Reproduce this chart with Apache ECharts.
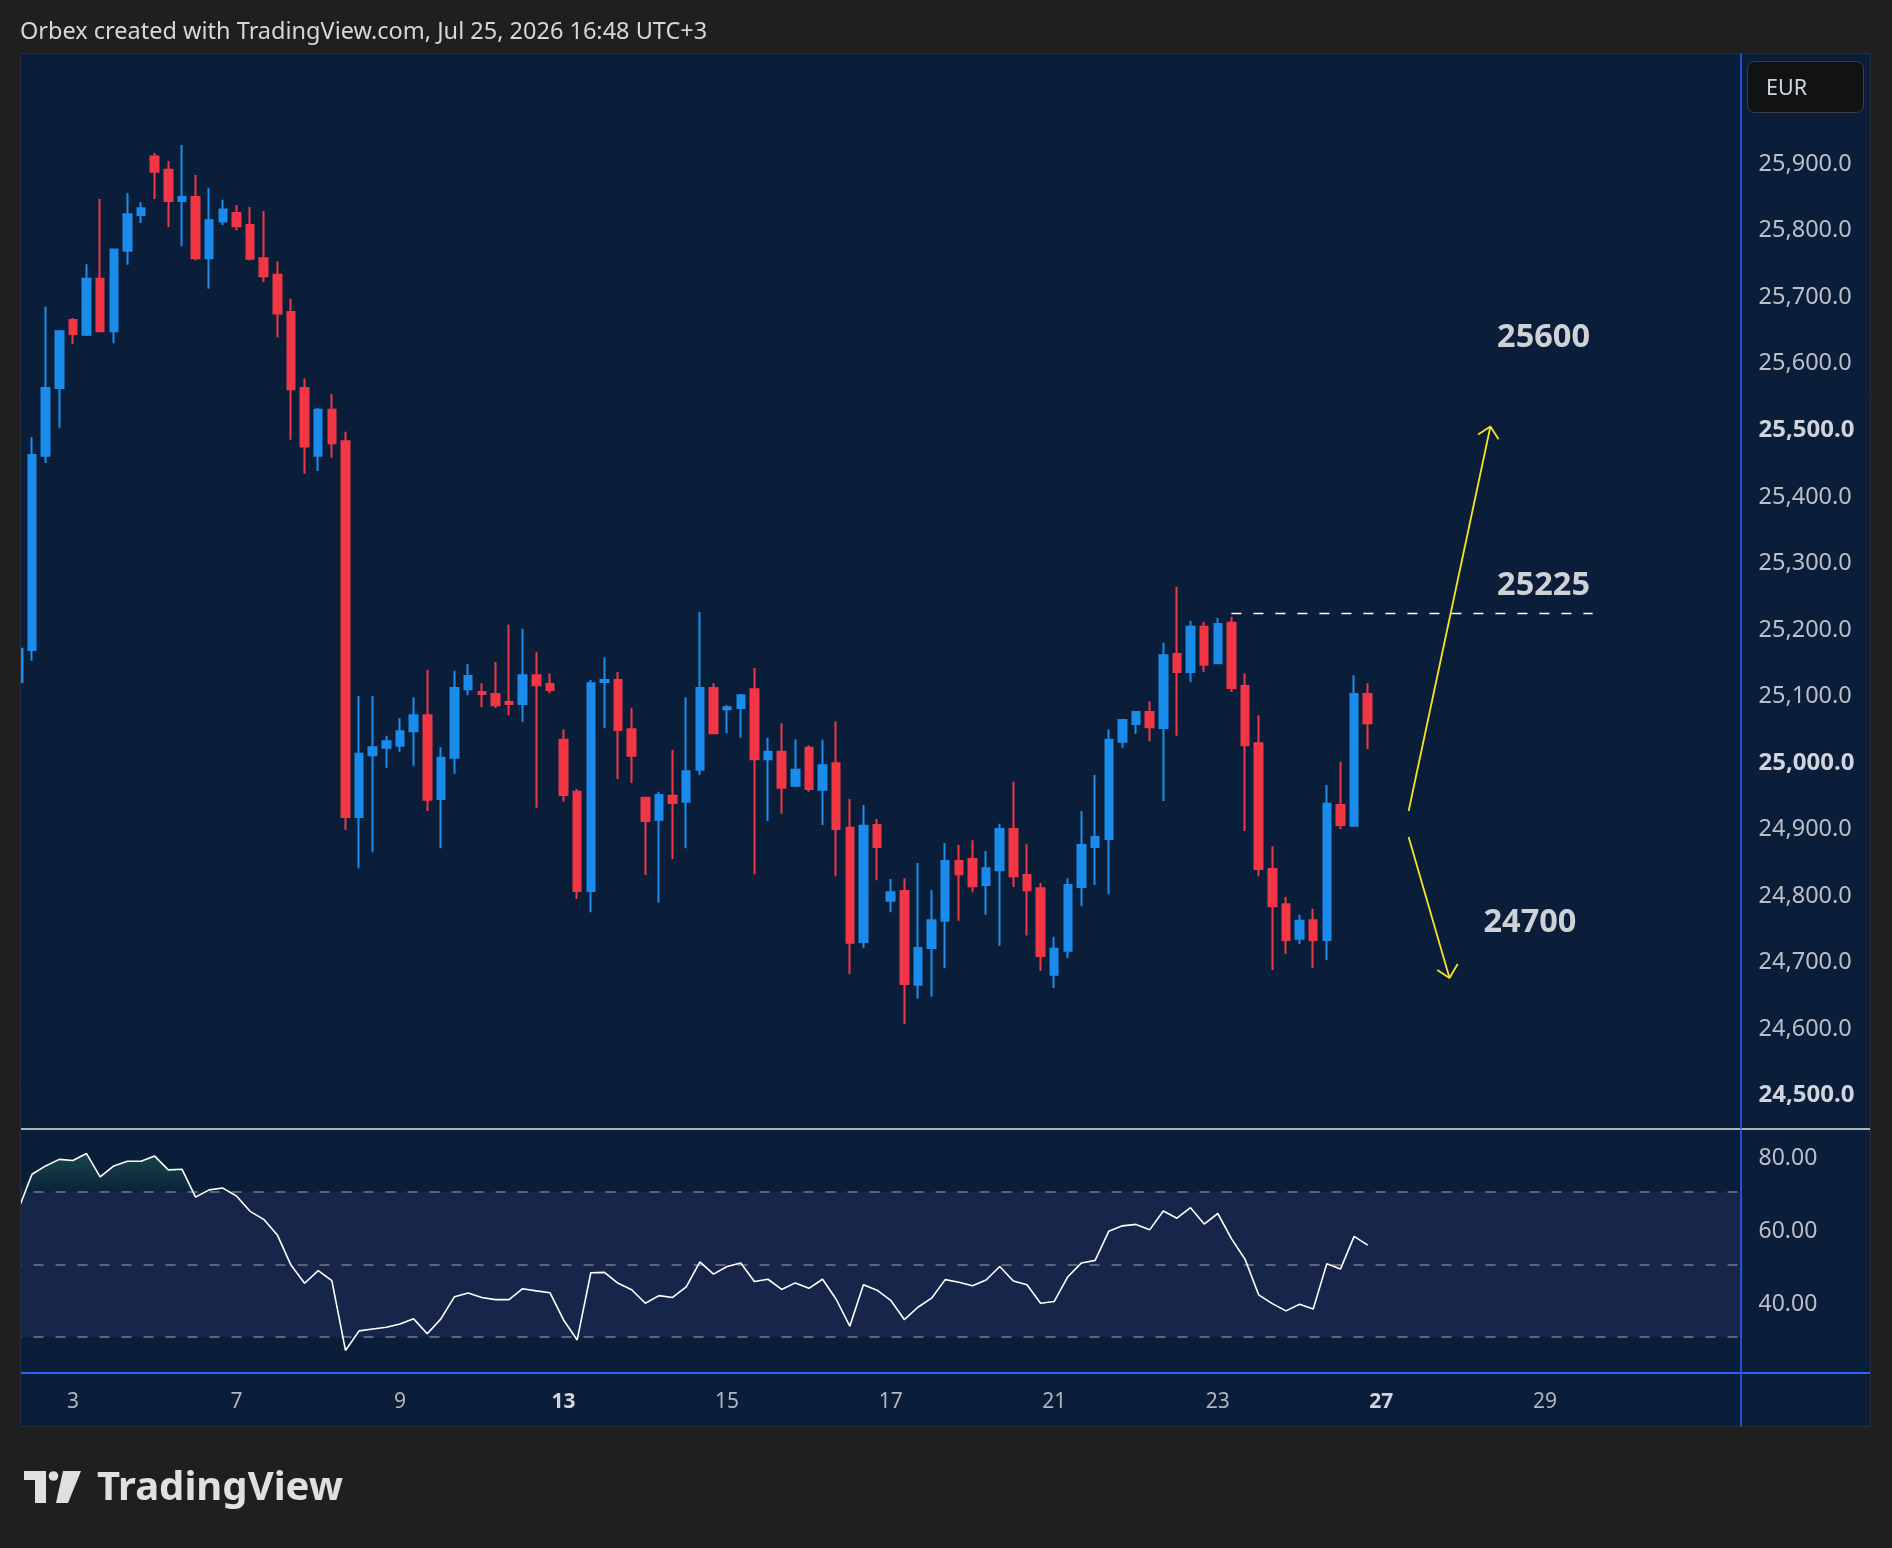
<!DOCTYPE html>
<html>
<head>
<meta charset="utf-8">
<script src="https://cdn.jsdelivr.net/npm/echarts@6/dist/echarts.min.js"></script>
<style>
  html, body { margin: 0; padding: 0; background: #1f1f1f; }
  #main { width: 1892px; height: 1548px; }
</style>
</head>
<body>
<div id="main"></div>
<script>
// 4H bars, Jul 2 (last bars) .. Jul 24 2026, then empty space to the right
const tradingDays = [2, 3, 6, 7, 8, 9, 10, 13, 14, 15, 16, 17, 20, 21, 22, 23, 24, 27, 28, 29, 30, 31];
const labeledDays = [3, 7, 9, 13, 15, 17, 21, 23, 27, 29];
const boldDays = [13, 27];

const opens = [
  25118, 25166, 25458, 25560, 25662, 25640, 25724, 25645, 25766, 25820,
  25908, 25888, 25841, 25847, 25755, 25810, 25823, 25805, 25755, 25730,
  25674, 25560, 25458, 25527, 25480, 24915, 25008, 25019, 25022, 25044,
  25068, 24942, 25004, 25107, 25103, 25100, 25088, 25085, 25128, 25115,
  25031, 24953, 24804, 25118, 25121, 25047, 24944, 24911, 24947, 24938,
  24986, 25109, 25077, 25079, 25107, 25002, 25013, 24962, 25019, 24956,
  24996, 24899, 24727, 24903, 24789, 24804, 24663, 24718, 24759, 24849,
  24852, 24813, 24835, 24897, 24828, 24808, 24678, 24714, 24810, 24870,
  24882, 25028, 25055, 25073, 25049, 25160, 25133, 25201, 25146, 25207,
  25112, 25026, 24837, 24784, 24732, 24760, 24730, 24933, 24902, 25100
];
const closes = [
  25168, 25459, 25560, 25645, 25641, 25724, 25645, 25768, 25821, 25830,
  25885, 25841, 25847, 25755, 25812, 25828, 25803, 25754, 25728, 25672,
  25558, 25472, 25527, 25477, 24915, 25010, 25020, 25029, 25044, 25068,
  24941, 25004, 25109, 25127, 25100, 25083, 25085, 25128, 25113, 25106,
  24948, 24804, 25116, 25121, 25046, 25007, 24909, 24948, 24936, 24984,
  25109, 25041, 25080, 25098, 25002, 25013, 24959, 24986, 24957, 24993,
  24897, 24726, 24902, 24870, 24802, 24664, 24718, 24760, 24849, 24829,
  24811, 24838, 24897, 24826, 24805, 24706, 24717, 24813, 24873, 24885,
  25031, 25061, 25073, 25050, 25158, 25133, 25201, 25144, 25205, 25109,
  25023, 24837, 24781, 24730, 24759, 24730, 24935, 24903, 25100, 25056
];
const lows = [
  25110, 25150, 25447, 25500, 25626, 25638, 25644, 25627, 25745, 25808,
  25844, 25802, 25773, 25752, 25709, 25805, 25797, 25752, 25719, 25636,
  25482, 25431, 25435, 25455, 24896, 24838, 24862, 24989, 25013, 24992,
  24924, 24868, 24980, 25098, 25080, 25079, 25068, 25058, 24929, 25101,
  24938, 24792, 24772, 25049, 24972, 24966, 24828, 24786, 24852, 24868,
  24978, 25041, 25041, 25034, 24829, 24909, 24920, 24960, 24953, 24903,
  24826, 24679, 24718, 24820, 24772, 24604, 24642, 24645, 24688, 24759,
  24802, 24768, 24721, 24810, 24737, 24684, 24658, 24703, 24781, 24813,
  24799, 25019, 25040, 25029, 24939, 25037, 25118, 25133, 25145, 25103,
  24894, 24826, 24685, 24709, 24724, 24688, 24700, 24897, 24901, 25017
];
const highs = [
  25172, 25486, 25682, 25647, 25665, 25746, 25844, 25768, 25853, 25839,
  25913, 25901, 25925, 25880, 25861, 25843, 25835, 25832, 25826, 25750,
  25694, 25574, 25530, 25551, 25494, 25097, 25097, 25037, 25064, 25095,
  25136, 25020, 25135, 25145, 25116, 25148, 25204, 25198, 25163, 25131,
  25047, 24957, 25121, 25155, 25133, 25079, 24945, 24953, 25016, 25095,
  25223, 25116, 25083, 25100, 25139, 25034, 25056, 25032, 25023, 25031,
  25059, 24942, 24933, 24912, 24822, 24823, 24846, 24805, 24876, 24873,
  24880, 24864, 24905, 24968, 24874, 24816, 24735, 24823, 24924, 24978,
  25047, 25062, 25074, 25089, 25177, 25261, 25210, 25208, 25214, 25216,
  25131, 25068, 24871, 24795, 24768, 24777, 24963, 24998, 25128, 25116
];
const rsiValues = [
  65.1, 74.8, 77.1, 78.9, 78.6, 80.5, 74.1, 77.1, 78.4, 78.4,
  79.8, 76.0, 76.2, 68.5, 70.5, 71.0, 68.8, 64.6, 62.4, 58.1,
  49.8, 44.8, 48.3, 45.5, 26.3, 31.7, 32.2, 32.7, 33.6, 35.0,
  30.9, 35.0, 41.1, 42.1, 40.9, 40.3, 40.3, 43.3, 42.7, 42.2,
  34.7, 29.2, 47.7, 47.8, 44.8, 43.0, 39.3, 41.4, 40.9, 43.8,
  50.7, 47.3, 49.4, 50.4, 45.3, 45.9, 43.1, 44.9, 43.4, 45.9,
  40.4, 33.0, 44.4, 42.9, 40.1, 34.8, 38.2, 40.7, 45.8, 45.1,
  44.1, 45.7, 49.4, 45.4, 44.4, 39.3, 39.8, 46.6, 50.4, 51.1,
  59.1, 60.6, 61.0, 59.5, 64.7, 62.7, 65.6, 61.1, 64.0, 57.1,
  51.4, 41.6, 39.2, 37.2, 39.0, 37.7, 50.2, 48.7, 57.7, 55.3
];
const rsiLevels = [70, 50, 30];

// drawings, in bar index (first full bar = 0) / price
const resistance = 25221;
const resistanceSpan = [88, 114.5];
const upArrow = [[101.0, 24924], [107.0, 25502]];
const upArrowHead = [[106.1, 25490], [107.0, 25502], [107.6, 25483]];
const downArrow = [[101.0, 24885], [104.0, 24673]];
const downArrowHead = [[103.1, 24685], [104.0, 24673], [104.6, 24694]];
const levelTexts = ['25600', '25225', '24700'];
const levelTextAnchors = [[110.9, 25635], [110.9, 25263], [109.9, 24756]];

const UP = '#1b8bec';
const DOWN = '#f23645';
const PANEL = '#0a1e3a';
const OUTER = '#1f1f1f';
const FONT = 'Noto Sans';

// category axis: 6 bars a day, starting with the 3rd bar of Jul 2
const allSlots = [];
tradingDays.forEach(d => { for (let s = 0; s < 6; s++) allSlots.push(d + '/' + s); });
const categories = allSlots.slice(2, 2 + 127);

const candleData = opens.map((o, j) => [o, closes[j], lows[j], highs[j]]);

function priceLabel(v) {
  const r = Math.round(v);
  if (Math.abs(v - r) > 0.01 || r % 100 !== 0 || r < 24500 || r > 25900) return '';
  const txt = Math.floor(r / 1000) + ',' + String(r % 1000).padStart(3, '0') + '.0';
  return r % 500 === 0 ? '{m|' + txt + '}' : txt;
}

function rsiLabel(v) {
  const r = Math.round(v);
  if (Math.abs(v - r) > 0.01 || ![40, 60, 80].includes(r)) return '';
  return '{r|' + r.toFixed(2) + '}';
}

const chart = echarts.init(document.getElementById('main'));

const option = {
  backgroundColor: PANEL,
  animation: false,
  graphic: {
    elements: [
      { type: 'rect', z: 100, shape: { x: 0, y: 0, width: 1892, height: 53 }, style: { fill: OUTER } },
      { type: 'rect', z: 100, shape: { x: 0, y: 53, width: 20, height: 1374 }, style: { fill: OUTER } },
      { type: 'rect', z: 100, shape: { x: 1871, y: 53, width: 21, height: 1374 }, style: { fill: OUTER } },
      { type: 'rect', z: 100, shape: { x: 0, y: 1427, width: 1892, height: 121 }, style: { fill: OUTER } },
      { type: 'rect', z: 101, shape: { x: 20.5, y: 53.5, width: 1850, height: 1373 }, style: { fill: null, stroke: '#2a2e39', lineWidth: 1 } },
      { type: 'line', z: 60, shape: { x1: 20, y1: 1129, x2: 1871, y2: 1129 }, style: { stroke: '#e6e6e6', lineWidth: 1.5 } },
      { type: 'line', z: 60, shape: { x1: 20, y1: 1373, x2: 1871, y2: 1373 }, style: { stroke: '#2962ff', lineWidth: 2 } },
      { type: 'line', z: 60, shape: { x1: 1741, y1: 53, x2: 1741, y2: 1427 }, style: { stroke: '#2962ff', lineWidth: 1.5 } },
      { type: 'rect', z: 102, shape: { x: 1747.5, y: 61.5, width: 116, height: 51, r: 7 }, style: { fill: '#111214', stroke: '#3b3f4a', lineWidth: 1 } },
      { type: 'text', z: 103, style: { x: 1766, y: 89, text: 'EUR', font: '21.5px "Noto Sans"', fill: '#d1d4dc', verticalAlign: 'middle' } },
      { type: 'text', z: 103, style: { x: 20, y: 32.5, text: 'Orbex created with TradingView.com, Jul 25, 2026 16:48 UTC+3', font: '23.5px "Noto Sans"', fill: '#d6d6d6', verticalAlign: 'middle' } },
      { type: 'polygon', z: 103, shape: { points: [[24, 1471], [46, 1471], [46, 1503], [35, 1503], [35, 1480], [24, 1480]] }, style: { fill: '#e0e0e0' } },
      { type: 'circle', z: 103, shape: { cx: 53.5, cy: 1476, r: 4.8 }, style: { fill: '#e0e0e0' } },
      { type: 'polygon', z: 103, shape: { points: [[63, 1471], [81, 1471], [68, 1503], [56, 1503]] }, style: { fill: '#e0e0e0' } },
      { type: 'text', z: 103, style: { x: 97, y: 1489, text: 'TradingView', font: 'bold 40px "Noto Sans"', fill: '#e0e0e0', verticalAlign: 'middle' } }
    ]
  },
  grid: [
    { left: 11.55, top: 53, width: 1731, height: 1075 },
    { left: 11.55, top: 1129, width: 1731, height: 243.7 }
  ],
  xAxis: [
    { type: 'category', gridIndex: 0, data: categories, boundaryGap: true, show: false },
    { type: 'value', gridIndex: 0, min: -1.5, max: 125.5, show: false },
    {
      type: 'category', gridIndex: 1, data: categories, boundaryGap: true,
      axisLine: { show: false }, axisTick: { show: false }, splitLine: { show: false },
      axisLabel: {
        interval: (idx, val) => {
          const [d, s] = val.split('/').map(Number);
          return s === 0 && labeledDays.includes(d);
        },
        formatter: (val) => {
          const d = Number(val.split('/')[0]);
          return boldDays.includes(d) ? '{b|' + d + '}' : String(d);
        },
        color: '#b2b5be', fontSize: 21, fontFamily: FONT, margin: 19,
        rich: { b: { fontWeight: 'bold', color: '#d1d4dc', fontSize: 21, fontFamily: FONT } }
      }
    }
  ],
  yAxis: [
    {
      type: 'value', gridIndex: 0, position: 'right', min: 24447.6, max: 26063.4, splitNumber: 16,
      axisLine: { show: false }, axisTick: { show: false }, splitLine: { show: false },
      axisLabel: {
        showMinLabel: false, showMaxLabel: false, margin: 16, padding: [5, 0, 0, 0],
        color: '#bcbfc7', fontSize: 23.5, fontFamily: FONT, formatter: priceLabel,
        rich: { m: { fontWeight: 'bold', color: '#d1d4dc', fontSize: 24, fontFamily: FONT } }
      }
    },
    {
      type: 'value', gridIndex: 1, position: 'right', min: 20.18, max: 87.26, splitNumber: 7,
      axisLine: { show: false }, axisTick: { show: false }, splitLine: { show: false },
      axisLabel: {
        showMinLabel: false, showMaxLabel: false, margin: 16,
        color: '#bcbfc7', fontSize: 23, fontFamily: FONT, formatter: rsiLabel,
        rich: { r: { color: '#bcbfc7', fontSize: 23, fontFamily: FONT, padding: [7, 0, 0, 0] } }
      }
    }
  ],
  series: [
    {
      name: 'DE40', type: 'candlestick', xAxisIndex: 0, yAxisIndex: 0, silent: true,
      data: candleData, barWidth: 8,
      itemStyle: { color: UP, color0: DOWN, borderColor: UP, borderColor0: DOWN, borderWidth: 2 }
    },
    {
      name: 'overbought', type: 'line', xAxisIndex: 2, yAxisIndex: 1, silent: true, z: 1,
      data: rsiValues.map(v => Math.max(v, 70)), symbol: 'none',
      lineStyle: { width: 0, opacity: 0 },
      areaStyle: {
        origin: 70,
        color: new echarts.graphic.LinearGradient(0, 0, 0, 1, [
          { offset: 0, color: 'rgba(40,135,95,0.55)' },
          { offset: 1, color: 'rgba(40,135,95,0.06)' }
        ])
      },
      markArea: { silent: true, itemStyle: { color: '#162549' }, data: [[{ yAxis: 30 }, { yAxis: 70 }]] },
      markLine: {
        silent: true, symbol: ['none', 'none'], label: { show: false },
        lineStyle: { color: '#787b86', type: [10, 12], width: 1.5 },
        data: rsiLevels.map(v => ({ yAxis: v }))
      }
    },
    {
      name: 'RSI', type: 'line', xAxisIndex: 2, yAxisIndex: 1, silent: true, z: 5,
      data: rsiValues, symbol: 'none',
      lineStyle: { color: '#ffffff', width: 1.6 }
    },
    {
      name: 'resistance', type: 'line', xAxisIndex: 1, yAxisIndex: 0, silent: true, z: 6,
      data: resistanceSpan.map(x => [x, resistance]), symbol: 'none',
      lineStyle: { color: '#ffffff', width: 1.5, type: [10, 12] }
    },
    {
      name: 'up', type: 'line', xAxisIndex: 1, yAxisIndex: 0, silent: true, z: 6,
      data: upArrow, symbol: 'none', lineStyle: { color: '#f5e425', width: 1.8 }
    },
    {
      name: 'upHead', type: 'line', xAxisIndex: 1, yAxisIndex: 0, silent: true, z: 6,
      data: upArrowHead, symbol: 'none', lineStyle: { color: '#f5e425', width: 1.8 }
    },
    {
      name: 'down', type: 'line', xAxisIndex: 1, yAxisIndex: 0, silent: true, z: 6,
      data: downArrow, symbol: 'none', lineStyle: { color: '#f5e425', width: 1.8 }
    },
    {
      name: 'downHead', type: 'line', xAxisIndex: 1, yAxisIndex: 0, silent: true, z: 6,
      data: downArrowHead, symbol: 'none', lineStyle: { color: '#f5e425', width: 1.8 }
    },
    {
      name: 'targets', type: 'scatter', xAxisIndex: 1, yAxisIndex: 0, silent: true, z: 7,
      data: levelTextAnchors.map((p, j) => [p[0], p[1], levelTexts[j]]),
      symbolSize: 1, itemStyle: { color: 'rgba(0,0,0,0)' },
      label: {
        show: true, position: 'inside', formatter: (p) => p.value[2],
        color: '#ffffff', fontSize: 32.5, fontWeight: 'bold', fontFamily: FONT
      }
    }
  ]
};

chart.setOption(option);
</script>
</body>
</html>
